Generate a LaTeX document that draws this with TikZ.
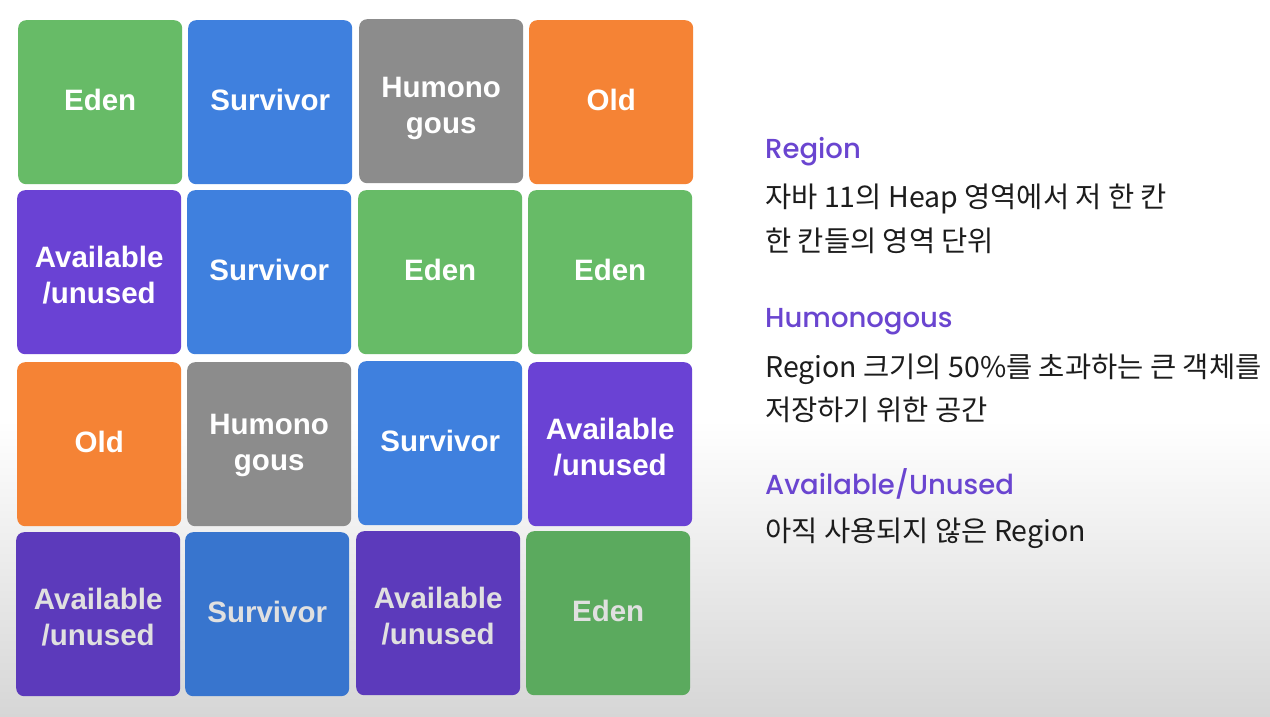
\documentclass[tikz,border=0pt]{standalone}
\usepackage{fontspec}
\newfontfamily\boxfont{Liberation Sans}
\newfontfamily\headfont{Poppins}[UprightFont={Poppins Medium}]
\newfontfamily\kr{Noto Sans CJK KR}
\definecolor{eden}{HTML}{67BB67}
\definecolor{surv}{HTML}{3F80DE}
\definecolor{humo}{HTML}{8C8C8C}
\definecolor{old}{HTML}{F58335}
\definecolor{avail}{HTML}{6A42D4}
\definecolor{edenD}{HTML}{5BAA5E}
\definecolor{survD}{HTML}{3875CE}
\definecolor{availD}{HTML}{5C3ABB}
\definecolor{head}{HTML}{6A45D0}
\definecolor{body}{HTML}{1C1C1C}
\definecolor{bgbot}{HTML}{D6D6D6}
\begin{document}
\begin{tikzpicture}[x=1pt,y=-1pt,
  boxtext/.style={text=white, font=\boxfont\bfseries\fontsize{29.5}{36}\selectfont},
  box/.style={boxtext, rounded corners=8pt, minimum width=164pt, minimum height=164pt,
    inner sep=0pt, text height=21pt, text depth=4pt, anchor=north west},
  boxD/.style={box, text=white!88!black},
  two/.style={boxtext, align=center, inner sep=0pt},
  twoD/.style={two, text=white!88!black},
  heading/.style={anchor=base west, inner sep=0pt, text=head, font=\headfont\fontsize{27.5}{30}\selectfont},
  desc/.style={anchor=base west, inner sep=0pt, text=body, font=\kr\fontsize{28.5}{30}\selectfont}]
\useasboundingbox (0,0) rectangle (1270,717);
\fill[white] (0,0) rectangle (1270,717);
\shade[top color=white, bottom color=bgbot] (0,420) rectangle (1270,717);
% row 1
\node[box, fill=eden]  (e1) at (18,20) {Eden};
\node[box, fill=surv]  (s1) at (188,20) {Survivor};
\node[box, fill=humo, label={[two, yshift=-7pt]center:Humono\\gous}]  (h1) at (359,19) {};
\node[box, fill=old]   (o1) at (529,20) {Old};
% row 2
\node[box, fill=avail, label={[two, yshift=-3pt]center:Available\\/unused}] (a1) at (17,190) {};
\node[box, fill=surv]  (s2) at (187,190) {Survivor};
\node[box, fill=eden]  (e2) at (358,190) {Eden};
\node[box, fill=eden]  (e3) at (528,190) {Eden};
% row 3
\node[box, fill=old]   (o2) at (17,362) {Old};
\node[box, fill=humo, label={[two, yshift=-1.5pt]center:Humono\\gous}]  (h2) at (187,362) {};
\node[box, fill=surv]  (s3) at (358,361) {Survivor};
\node[box, fill=avail, label={[two, yshift=-3pt]center:Available\\/unused}] (a2) at (528,362) {};
% row 4
\node[boxD, fill=availD, label={[twoD, yshift=-3pt]center:Available\\/unused}] (a3) at (16,532) {};
\node[boxD, fill=survD]  (s4) at (185,532) {Survivor};
\node[boxD, fill=availD, label={[twoD, yshift=-3pt]center:Available\\/unused}] (a4) at (356,531) {};
\node[boxD, fill=edenD]  (e4) at (526,531) {Eden};
% right text
\node[heading] (t1) at (765,158) {Region};
\node[desc] (d1) at (765,207) {자바 11의 Heap 영역에서 저 한 칸};
\node[desc] (d2) at (765,251) {한 칸들의 영역 단위};
\node[heading] (t2) at (765,327) {Humonogous};
\node[desc] (d3) at (765,377) {Region 크기의 50\%를 초과하는 큰 객체를};
\node[desc] (d4) at (765,420) {저장하기 위한 공간};
\node[heading] (t3) at (765,494) {Available/Unused};
\node[desc] (d5) at (765,541) {아직 사용되지 않은 Region};
\end{tikzpicture}
\end{document}
